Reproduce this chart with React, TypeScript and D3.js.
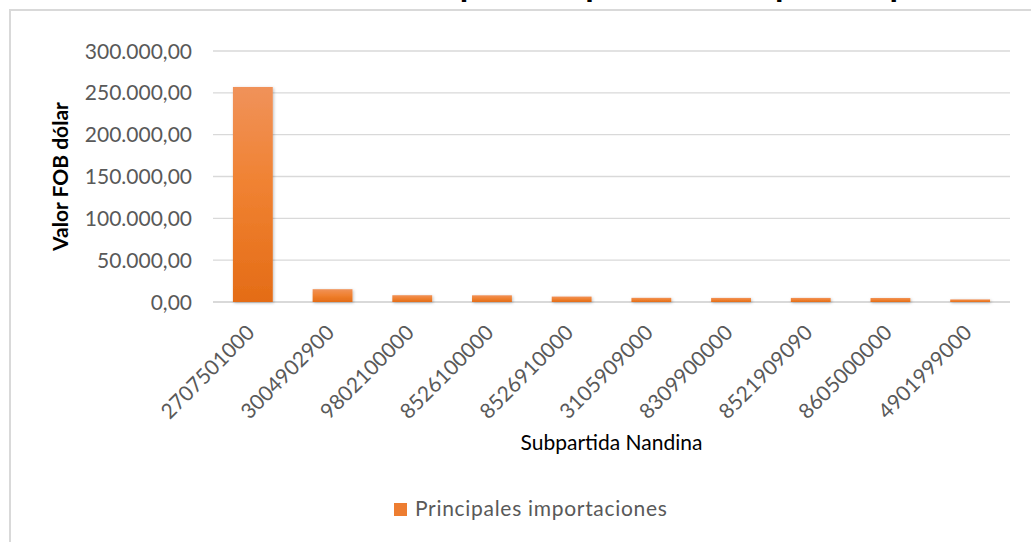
import React, { useEffect } from "react";
import * as d3 from "d3";

const categories = [
  "2707501000",
  "3004902900",
  "9802100000",
  "8526100000",
  "8526910000",
  "3105909000",
  "8309900000",
  "8521909090",
  "8605000000",
  "4901999000",
];
const values = [257000, 15300, 8100, 8000, 6500, 5000, 4900, 4900, 4800, 3100];
const yTicks = [0, 50000, 100000, 150000, 200000, 250000, 300000];
const seriesName = "Principales importaciones";
const xTitle = "Subpartida Nandina";
const yTitle = "Valor FOB dólar";
const chartTitle = "Principales importaciones por subpartida";

const locale = d3.formatLocale({
  decimal: ",",
  thousands: ".",
  grouping: [3],
  currency: ["$", ""],
});
const fmt = locale.format(",.2f");

const W = 1031;
const H = 542;
const margin = { top: 51, right: 21, bottom: 240, left: 213 };
const font = "Lato, 'Open Sans', sans-serif";

export default function App() {
  useEffect(() => {
    document.body.style.margin = "0";
  }, []);

  const x = d3
    .scaleBand()
    .domain(categories)
    .range([margin.left, W - margin.right])
    .paddingInner(0.5)
    .paddingOuter(0.25);

  const y = d3
    .scaleLinear()
    .domain([0, 300000])
    .range([H - margin.bottom, margin.top]);

  const y0 = y(0);
  const midX = (margin.left + W - margin.right) / 2;

  return (
    <svg width={W} height={H} style={{ display: "block", background: "#fff" }}>
      <defs>
        <linearGradient id="barGrad" x1="0" y1="0" x2="0" y2="1">
          <stop offset="0%" stopColor="#f0925a" />
          <stop offset="45%" stopColor="#f08232" />
          <stop offset="100%" stopColor="#e46c16" />
        </linearGradient>
        <filter id="shadow" x="-20%" y="-5%" width="140%" height="115%">
          <feDropShadow dx="1" dy="1" stdDeviation="1.5" floodColor="#000" floodOpacity="0.25" />
        </filter>
      </defs>

      {/* chart frame */}
      <rect x={10} y={10} width={W + 20} height={H + 20} fill="#fff" stroke="#d9d9d9" strokeWidth={2} />

      {/* title is cut by the top edge, only descenders show */}
      <text x={372} y={-4.5} fontFamily={font} fontWeight="bold" fontSize={34.6} fill="#000">
        {chartTitle}
      </text>

      {/* gridlines + y labels */}
      <g>
        {yTicks.map((t) => (
          <g key={t}>
            <line
              x1={margin.left}
              x2={W - margin.right}
              y1={y(t)}
              y2={y(t)}
              stroke="#d9d9d9"
              strokeWidth={t === 0 ? 2 : 1.3}
            />
            <text
              x={192}
              y={y(t)}
              dy="0.36em"
              textAnchor="end"
              fontFamily={font}
              fontSize={21}
              fill="#595959"
            >
              {fmt(t)}
            </text>
          </g>
        ))}
      </g>

      {/* bars */}
      <g filter="url(#shadow)">
        {categories.map((c, i) => (
          <rect
            key={c}
            x={x(c)}
            y={y(values[i])}
            width={x.bandwidth()}
            height={y0 - y(values[i])}
            fill="url(#barGrad)"
          />
        ))}
      </g>

      {/* x labels */}
      <g>
        {categories.map((c) => {
          const cx = (x(c) as number) + x.bandwidth() / 2 + 3;
          return (
            <text
              key={c}
              transform={`translate(${cx},${y0 + 32}) rotate(-45)`}
              textAnchor="end"
              fontFamily={font}
              fontSize={21}
              fill="#595959"
            >
              {c}
            </text>
          );
        })}
      </g>

      {/* axis titles */}
      <text x={midX} y={450} textAnchor="middle" fontFamily={font} fontSize={21} fill="#000">
        {xTitle}
      </text>
      <text
        transform={`translate(68,${(margin.top + y0) / 2}) rotate(-90)`}
        textAnchor="middle"
        fontFamily={font}
        fontWeight="bold"
        fontSize={21}
        fill="#000"
      >
        {yTitle}
      </text>

      {/* legend */}
      <g transform="translate(394,503)">
        <rect width={13} height={13} fill="#ed7d31" />
        <text x={21} y={13} fontFamily={font} fontSize={21} letterSpacing={0.7} fill="#595959">
          {seriesName}
        </text>
      </g>
    </svg>
  );
}
